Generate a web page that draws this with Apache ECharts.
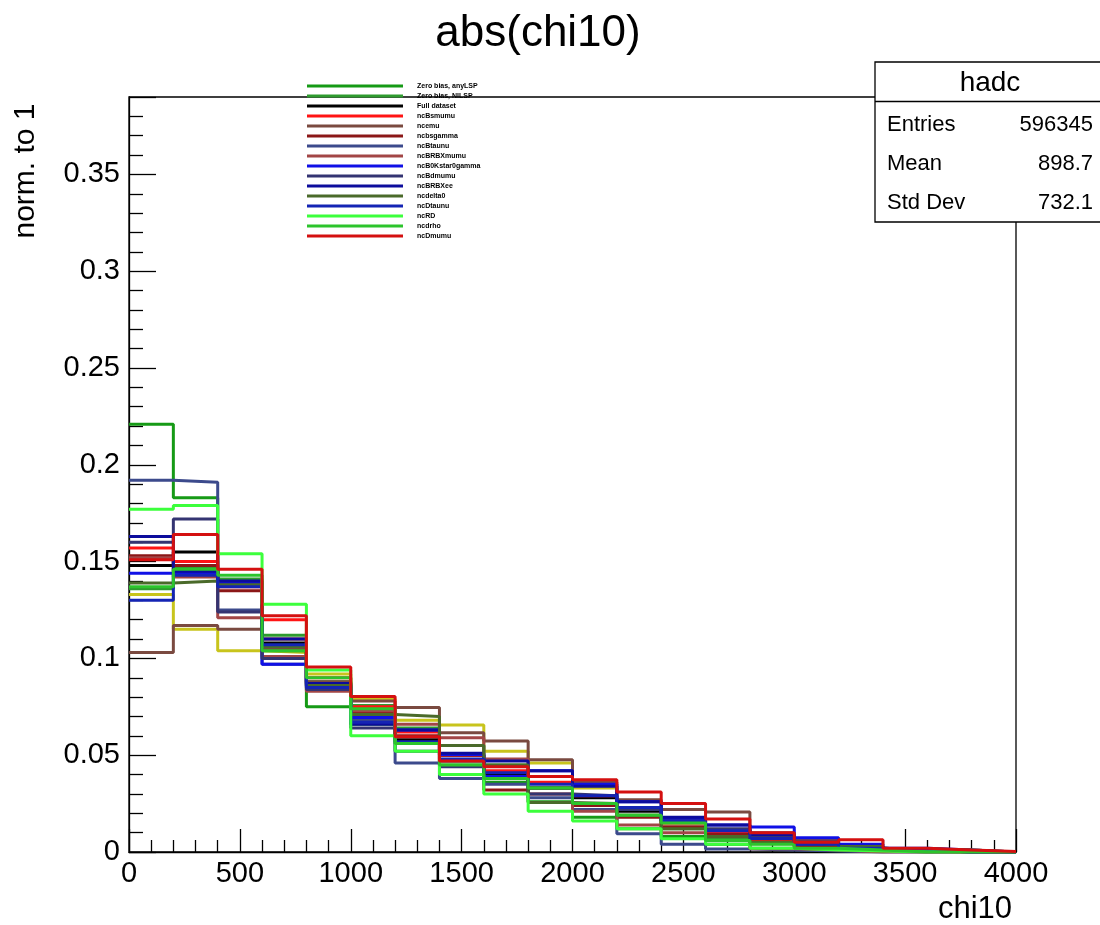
<!DOCTYPE html>
<html>
<head>
<meta charset="utf-8">
<script src="https://cdn.jsdelivr.net/npm/echarts@6/dist/echarts.min.js"></script>
<style>
html,body{margin:0;padding:0;background:#fff;}
#chart{width:1100px;height:925px;}
</style>
</head>
<body>
<div id="chart"></div>
<script>
// ---- data ----
const binLow = [0,200,400,600,800,1000,1200,1400,1600,1800,2000,2200,2400,2600,2800,3000,3200,3400,3600,3800];
const binHigh = 4000;

const seriesNames = ["Zero bias, anyLSP","Zero bias, NILSP","Full dataset","ncBsmumu","ncemu","ncbsgamma","ncBtaunu","ncBRBXmumu","ncB0Kstar0gamma","ncBdmumu","ncBRBXee","ncdelta0","ncDtaunu","ncRD","ncdrho","ncDmumu"];

const yellowHist = [0.133,0.115,0.104,0.103,0.092,0.079,0.068,0.0656,0.052,0.046,0.033,0.023,0.015,0.010,0.006,0.003,0.002,0.001,0.0005,0];
const anyLSP     = [0.221,0.183,0.140,0.104,0.075,0.066,0.056,0.045,0.036,0.026,0.018,0.012,0.008,0.004,0.002,0.001,0.0005,0,0,0];
const nilLSP     = [0.136,0.147,0.141,0.112,0.088,0.0757,0.064,0.055,0.045,0.033,0.025,0.019,0.012,0.007,0.0043,0.002,0.001,0.0005,0,0];
const fullData   = [0.148,0.155,0.138,0.108,0.087,0.072,0.058,0.047,0.040,0.033,0.028,0.021,0.016,0.0115,0.0077,0.004,0.002,0.001,0,0];
const ncBsmumu   = [0.157,0.150,0.137,0.120,0.090,0.075,0.062,0.050,0.042,0.036,0.029,0.022,0.015,0.010,0.006,0.003,0.0015,0.0005,0,0];
const ncemu      = [0.103,0.117,0.115,0.105,0.088,0.078,0.0747,0.0616,0.0573,0.0477,0.036,0.027,0.022,0.0207,0.010,0.006,0.003,0.0016,0.001,0];
const ncbsgamma  = [0.153,0.148,0.135,0.110,0.086,0.072,0.060,0.050,0.032,0.030,0.024,0.018,0.013,0.009,0.005,0.003,0.001,0,0,0];
const ncBtaunu   = [0.192,0.191,0.125,0.097,0.085,0.068,0.046,0.038,0.035,0.028,0.022,0.0094,0.004,0.0016,0.001,0.0005,0,0,0,0];
const ncBRBXmumu = [0.152,0.142,0.121,0.101,0.083,0.073,0.066,0.059,0.048,0.039,0.021,0.014,0.010,0.006,0.0017,0.001,0,0,0,0];
const ncB0Kstar0gamma = [0.144,0.144,0.139,0.097,0.086,0.0695,0.063,0.0503,0.039,0.042,0.035,0.026,0.017,0.014,0.0129,0.0073,0.004,0.002,0.001,0];
const ncBdmumu   = [0.160,0.172,0.124,0.100,0.084,0.064,0.052,0.044,0.038,0.030,0.029,0.022,0.016,0.012,0.008,0.004,0.002,0.001,0,0];
const ncBRBXee   = [0.163,0.145,0.140,0.110,0.087,0.066,0.063,0.051,0.047,0.042,0.034,0.026,0.018,0.014,0.009,0.005,0.003,0.001,0,0];
const ncdelta0   = [0.139,0.140,0.138,0.106,0.086,0.071,0.070,0.055,0.045,0.0256,0.025,0.019,0.012,0.008,0.005,0.004,0.0028,0.0016,0.001,0];
const ncDtaunu   = [0.130,0.143,0.137,0.107,0.085,0.067,0.057,0.048,0.041,0.035,0.029,0.023,0.016,0.011,0.007,0.004,0.002,0.001,0,0];
const ncRD       = [0.177,0.179,0.154,0.128,0.094,0.060,0.052,0.040,0.030,0.021,0.016,0.012,0.0068,0.004,0.002,0.001,0.0005,0,0,0];
const ncdrho     = [0.137,0.146,0.143,0.104,0.090,0.074,0.056,0.045,0.038,0.033,0.025,0.019,0.015,0.006,0.004,0.002,0.001,0,0,0];
const ncDmumu    = [0.151,0.164,0.146,0.122,0.0956,0.0803,0.0595,0.047,0.044,0.039,0.0373,0.031,0.025,0.017,0.010,0.005,0.0063,0.002,0.001,0.0003];

const seriesValues = [anyLSP,nilLSP,fullData,ncBsmumu,ncemu,ncbsgamma,ncBtaunu,ncBRBXmumu,ncB0Kstar0gamma,ncBdmumu,ncBRBXee,ncdelta0,ncDtaunu,ncRD,ncdrho,ncDmumu];
const seriesColors = ["#169a16","#2f9b2f","#000000","#ff1414","#7a4a40","#8b1717","#3c4a8c","#a24646","#1010e6","#343472","#0c0c9c","#4a6a2a","#1424b4","#3cff3c","#2cc42c","#d41010"];
const yellowColor = "#c8c41c";

const statsTitle = "hadc";
const statsRows = [["Entries","596345"],["Mean","898.7"],["Std Dev","732.1"]];

const FONT = "'Liberation Sans', Arial, Helvetica, sans-serif";

function histData(vals){
  const d = binLow.map((x,i)=>[x, vals[i]]);
  d.push([binHigh, vals[vals.length-1]]);
  return d;
}
function histSeries(name, vals, color){
  return {
    name: name, type:'line', step:'end', data: histData(vals),
    symbol:'none', showSymbol:false,
    lineStyle:{color:color, width:3},
    itemStyle:{color:color},
    emphasis:{disabled:true},
    animation:false
  };
}

const series = [histSeries('yellow', yellowHist, yellowColor)];
seriesNames.forEach((n,i)=>series.push(histSeries(n, seriesValues[i], seriesColors[i])));

const chart = echarts.init(document.getElementById('chart'), null, {renderer:'canvas'});

const graphics = [
  {type:'text', x:538, y:34, style:{text:'abs(chi10)', font:'44px '+FONT, fill:'#000', textAlign:'center', textVerticalAlign:'middle'}, z:100},
  {type:'text', x:26, y:171, rotation:Math.PI/2, style:{text:'norm. to 1', font:'30px '+FONT, fill:'#000', textAlign:'center', textVerticalAlign:'middle'}, z:100},
  {type:'text', x:1012, y:909, style:{text:'chi10', font:'31px '+FONT, fill:'#000', textAlign:'right', textVerticalAlign:'middle'}, z:100},
  {type:'rect', shape:{x:875, y:62, width:240, height:160}, style:{fill:'#fff', stroke:'#000', lineWidth:1.3}, z:200},
  {type:'line', shape:{x1:875, y1:101.5, x2:1100, y2:101.5}, style:{stroke:'#000', lineWidth:1.3}, z:201},
  {type:'text', x:990, y:83, style:{text:statsTitle, font:'28px '+FONT, fill:'#000', textAlign:'center', textVerticalAlign:'middle'}, z:202}
];
statsRows.forEach((r,i)=>{
  const y = 125 + i*39;
  graphics.push({type:'text', x:887, y:y, style:{text:r[0], font:'22px '+FONT, fill:'#000', textAlign:'left', textVerticalAlign:'middle'}, z:202});
  graphics.push({type:'text', x:1093, y:y, style:{text:r[1], font:'22px '+FONT, fill:'#000', textAlign:'right', textVerticalAlign:'middle'}, z:202});
});

const option = {
  animation:false,
  backgroundColor:'#fff',
  textStyle:{fontFamily:FONT},
  grid:{left:129, right:84, top:97, bottom:73, show:true, borderColor:'#000', borderWidth:1.3, backgroundColor:'transparent', containLabel:false},
  legend:{
    data: seriesNames,
    orient:'vertical', left:302, top:76,
    itemWidth:96, itemHeight:3, itemGap:0,
    icon:'rect',
    selectedMode:false,
    textStyle:{fontSize:7, fontWeight:'bold', color:'#000', lineHeight:10, padding:[0,0,0,9], fontFamily:FONT}
  },
  xAxis:{
    type:'value', min:0, max:4000, interval:500,
    axisLine:{show:true, lineStyle:{color:'#000', width:1.3}},
    axisTick:{show:true, inside:true, length:23, lineStyle:{color:'#000', width:1.3}},
    minorTick:{show:true, splitNumber:5, length:12, lineStyle:{color:'#000', width:1.3}},
    splitLine:{show:false},
    axisLabel:{fontSize:29, color:'#000', margin:7, fontFamily:FONT,
      formatter:function(v){ return String(Math.round(v)); }}
  },
  yAxis:{
    type:'value', min:0, max:0.39, interval:0.05,
    axisLine:{show:true, lineStyle:{color:'#000', width:1.3}},
    axisTick:{show:true, inside:true, length:27, lineStyle:{color:'#000', width:1.3}},
    minorTick:{show:true, splitNumber:5, length:14, lineStyle:{color:'#000', width:1.3}},
    splitLine:{show:false},
    axisLabel:{fontSize:29, color:'#000', margin:9, fontFamily:FONT, showMaxLabel:false,
      formatter:function(v){ return Math.abs(v-0.39)<1e-9 ? '' : String(+v.toFixed(2)); }}
  },
  graphic: graphics,
  series: series
};
chart.setOption(option);
</script>
</body>
</html>
